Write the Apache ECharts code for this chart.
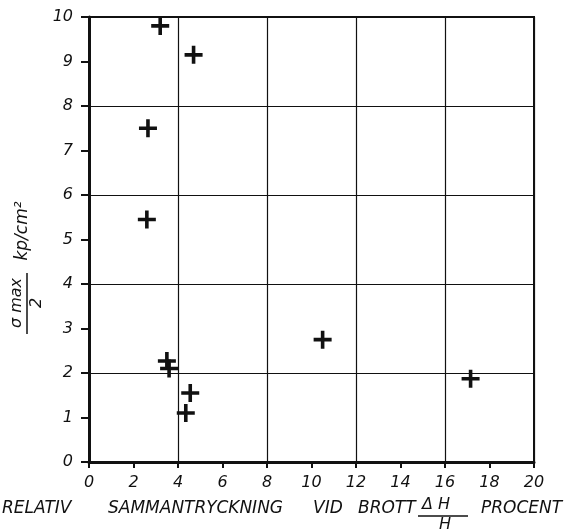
<!DOCTYPE html>
<html>
<head>
<meta charset="utf-8">
<script src="https://cdn.jsdelivr.net/npm/echarts@6/dist/echarts.min.js"></script>
<style>html,body{margin:0;padding:0;background:#fff;}#c{width:566px;height:529px;}</style>
</head>
<body>
<div id="c"></div>
<script>
// Data
var xValues = [3.2, 4.7, 2.65, 2.6, 3.5, 3.6, 4.55, 4.35, 10.5, 17.15];
var yValues = [9.8, 9.15, 7.5, 5.45, 2.27, 2.1, 1.55, 1.1, 2.75, 1.87];
var xTicks = [0, 2, 4, 6, 8, 10, 12, 14, 16, 18, 20];
var yTicks = [0, 1, 2, 3, 4, 5, 6, 7, 8, 9, 10];

var points = xValues.map(function (x, i) { return [x, yValues[i]]; });
var ink = '#111';
var fontFam = 'DejaVu Sans';
var plus = 'path://M8,0H12V8H20V12H12V20H8V12H0V8H8Z';
var tf = 'italic 17px DejaVu Sans';

var chart = echarts.init(document.getElementById('c'), null, {renderer: 'canvas'});
chart.setOption({
  backgroundColor: '#fff',
  animation: false,
  grid: {left: 89, right: 32, top: 17, bottom: 67, show: true, borderColor: ink, borderWidth: 2, backgroundColor: 'transparent'},
  xAxis: [{
    type: 'value', min: xTicks[0], max: xTicks[xTicks.length - 1], interval: 2,
    axisLine: {show: true, onZero: false, lineStyle: {color: ink, width: 3}},
    axisTick: {show: true, length: 6, lineStyle: {color: ink, width: 2}},
    axisLabel: {color: ink, fontSize: 16, fontStyle: 'italic', fontFamily: fontFam, margin: 13},
    splitLine: {show: false}
  }, {
    type: 'value', min: 0, max: 20, interval: 4, position: 'bottom',
    axisLine: {show: false}, axisTick: {show: false}, axisLabel: {show: false},
    splitLine: {show: true, lineStyle: {color: ink, width: 1.2}}
  }],
  yAxis: [{
    type: 'value', min: yTicks[0], max: yTicks[yTicks.length - 1], interval: 1,
    axisLine: {show: true, onZero: false, lineStyle: {color: ink, width: 3}},
    axisTick: {show: true, length: 8, lineStyle: {color: ink, width: 2}},
    axisLabel: {color: ink, fontSize: 16, fontStyle: 'italic', fontFamily: fontFam, margin: 16},
    splitLine: {show: false}
  }, {
    type: 'value', min: 0, max: 10, interval: 2, position: 'left',
    axisLine: {show: false}, axisTick: {show: false}, axisLabel: {show: false},
    splitLine: {show: true, lineStyle: {color: ink, width: 1.2}}
  }],
  series: [{
    type: 'scatter', xAxisIndex: 0, yAxisIndex: 0,
    data: points, symbol: plus, symbolSize: 18,
    itemStyle: {color: ink, opacity: 1}
  }],
  graphic: [
    // x axis title
    {type: 'text', left: 2, top: 500, style: {text: 'RELATIV', font: tf, fill: ink}},
    {type: 'text', left: 108, top: 500, style: {text: 'SAMMANTRYCKNING', font: tf, fill: ink}},
    {type: 'text', left: 313, top: 500, style: {text: 'VID', font: tf, fill: ink}},
    {type: 'text', left: 358, top: 500, style: {text: 'BROTT', font: tf, fill: ink}},
    {type: 'text', left: 422, top: 497, style: {text: '\u0394 H', font: 'italic 16px DejaVu Sans', fill: ink}},
    {type: 'line', shape: {x1: 418, y1: 516, x2: 468, y2: 516}, style: {stroke: ink, lineWidth: 1.5}},
    {type: 'text', left: 439, top: 517, style: {text: 'H', font: 'italic 16px DejaVu Sans', fill: ink}},
    {type: 'text', left: 481, top: 500, style: {text: 'PROCENT', font: tf, fill: ink}},
    // y axis title (rotated)
    {type: 'text', x: 23, y: 231, rotation: Math.PI / 2, style: {text: 'kp/cm\u00b2', font: 'italic 17px DejaVu Sans', fill: ink, align: 'center', verticalAlign: 'middle'}},
    {type: 'text', x: 17, y: 303, rotation: Math.PI / 2, style: {text: '\u03c3 max', font: 'italic 16px DejaVu Sans', fill: ink, align: 'center', verticalAlign: 'middle'}},
    {type: 'line', shape: {x1: 27, y1: 273, x2: 27, y2: 334}, style: {stroke: ink, lineWidth: 1.5}},
    {type: 'text', x: 37, y: 303, rotation: Math.PI / 2, style: {text: '2', font: 'italic 16px DejaVu Sans', fill: ink, align: 'center', verticalAlign: 'middle'}}
  ]
});
</script>
</body>
</html>
